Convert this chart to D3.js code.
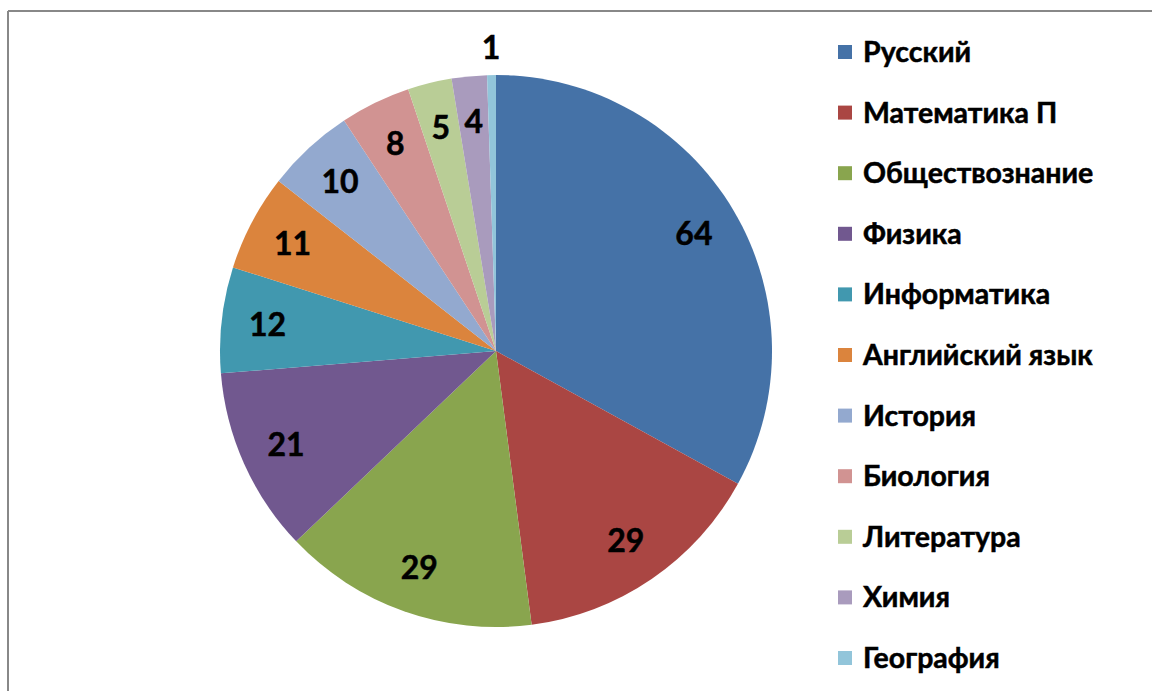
<!DOCTYPE html>
<html>
<head>
<meta charset="utf-8">
<title>Pie</title>
<script src="https://d3js.org/d3.v7.min.js"></script>
<style>
  body { margin: 0; background: #fff; }
  text { font-family: Lato, "Open Sans", sans-serif; font-weight: bold; }
</style>
</head>
<body>
<script>
const subjects = ["Русский", "Математика П", "Обществознание", "Физика", "Информатика",
  "Английский язык", "История", "Биология", "Литература", "Химия", "География"];
const counts = [64, 29, 29, 21, 12, 11, 10, 8, 5, 4, 1];
const colors = ["#4572A7", "#AA4643", "#89A54E", "#71588F", "#4198AF", "#DB843D",
  "#93A9CF", "#D19392", "#B9CD96", "#A99BBD", "#92C5DA"];

const width = 1152, height = 691;
const cx = 496, cy = 351, radius = 276;

const svg = d3.select("body").append("svg")
  .attr("width", width).attr("height", height);

// frame (only top and left are visible)
svg.append("line").attr("x1", 8).attr("x2", width).attr("y1", 11).attr("y2", 11)
  .attr("stroke", "#888").attr("stroke-width", 2);
svg.append("line").attr("x1", 8).attr("x2", 8).attr("y1", 11).attr("y2", height)
  .attr("stroke", "#888").attr("stroke-width", 2);

const data = subjects.map((s, i) => ({ name: s, value: counts[i], color: colors[i] }));

const pie = d3.pie().sort(null).value(d => d.value);
const arc = d3.arc().innerRadius(0).outerRadius(radius);
const labelArc = d3.arc().innerRadius(230).outerRadius(230);
const outerArc = d3.arc().innerRadius(303).outerRadius(303);

const g = svg.append("g").attr("transform", `translate(${cx},${cy})`);
const arcs = pie(data);

g.selectAll("path").data(arcs).enter().append("path")
  .attr("d", arc)
  .attr("fill", d => d.data.color);

g.selectAll("text.lbl").data(arcs).enter().append("text")
  .attr("class", "lbl")
  .attr("transform", d => {
    const c = d.data.value < 2 ? outerArc.centroid(d) : labelArc.centroid(d);
    return `translate(${c})`;
  })
  .attr("text-anchor", "middle")
  .attr("dy", "0.35em")
  .attr("font-size", 32)
  .attr("fill", "#000")
  .attr("stroke", "#000").attr("stroke-width", 0.5)
  .text(d => d.data.value);

// legend
const legend = svg.append("g");
const rows = legend.selectAll("g").data(data).enter().append("g")
  .attr("transform", (d, i) => `translate(838,${52 + i * 60.6})`);
rows.append("rect").attr("x", 0).attr("y", -7).attr("width", 14).attr("height", 14)
  .attr("fill", d => d.color);
rows.append("text").attr("x", 25).attr("dy", "0.35em")
  .attr("font-size", 28.5).attr("fill", "#000")
  .attr("stroke", "#000").attr("stroke-width", 0.5)
  .text(d => d.name);
</script>
</body>
</html>
